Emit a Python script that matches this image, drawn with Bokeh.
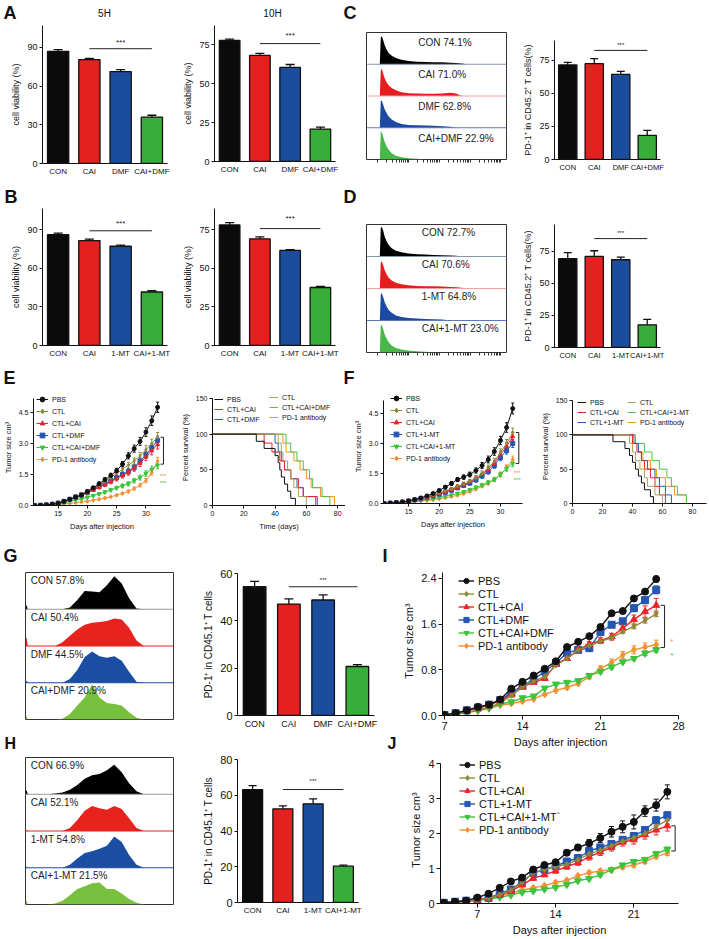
import numpy as np
from bokeh.plotting import figure
from bokeh.models import (FactorRange, Range1d, Whisker, TeeHead, ColumnDataSource,
                          Legend, LegendItem, FixedTicker, PrintfTickFormatter, Span)
from bokeh.layouts import row, column
from bokeh.embed import file_html
from bokeh.resources import INLINE
from bokeh.core.properties import value

FONT = "Liberation Sans"

# ---------------- data ----------------
cats_dmf = ["CON", "CAI", "DMF", "CAI+DMF"]
cats_mt = ["CON", "CAI", "1-MT", "CAI+1-MT"]

a5_vals = [87.0, 80.6, 71.3, 35.9];  a5_errs = [1.3, 0.8, 1.5, 1.5]
a10_vals = [77.6, 68.0, 60.3, 20.8]; a10_errs = [0.8, 1.3, 1.9, 1.3]
b5_vals = [86.0, 81.4, 77.0, 41.5];  b5_errs = [1.2, 1.2, 0.9, 1.0]
b10_vals = [78.0, 69.0, 61.5, 37.5]; b10_errs = [1.5, 1.2, 0.5, 0.8]
c_vals = [71.5, 72.5, 64.4, 18.2];   c_errs = [2.0, 3.8, 2.3, 3.8]
d_vals = [69.3, 71.1, 68.5, 17.7];   d_errs = [4.7, 4.4, 2.1, 4.2]
g_vals = [54.4, 47.1, 48.8, 20.7];   g_errs = [2.3, 2.2, 2.2, 0.8]
h_vals = [63.2, 52.4, 55.2, 20.3];   h_errs = [2.2, 1.7, 2.8, 0.6]

# flow histograms (relative heights in each row)
cd_x = [9.5, 10.2, 11, 12, 13, 14.5, 16, 18, 21, 25, 30, 36, 42, 48, 54, 60, 64, 68, 72]
c_con = [0, 0.85, 0.88, 0.75, 0.6, 0.45, 0.35, 0.27, 0.2, 0.14, 0.1, 0.08, 0.07, 0.06, 0.06, 0.05, 0.04, 0.02, 0]
c_cai = [0, 0.8, 0.85, 0.7, 0.55, 0.42, 0.33, 0.25, 0.18, 0.12, 0.09, 0.08, 0.07, 0.07, 0.08, 0.1, 0.08, 0, 0]
c_dmf = [0, 0.85, 0.85, 0.72, 0.58, 0.45, 0.35, 0.26, 0.18, 0.12, 0.09, 0.08, 0.07, 0.06, 0.05, 0.03, 0, 0, 0]
c_cd = [0, 0.9, 0.85, 0.7, 0.55, 0.4, 0.3, 0.2, 0.12, 0.07, 0.04, 0.02, 0, 0, 0, 0, 0, 0, 0]
d_con = [0, 0.9, 0.92, 0.8, 0.62, 0.46, 0.35, 0.26, 0.18, 0.13, 0.09, 0.07, 0.06, 0.05, 0.04, 0.03, 0.02, 0, 0]
d_cai = [0, 0.8, 0.85, 0.72, 0.57, 0.43, 0.33, 0.25, 0.18, 0.13, 0.1, 0.08, 0.07, 0.07, 0.06, 0.05, 0.04, 0.02, 0]
d_mt = [0, 0.82, 0.85, 0.72, 0.57, 0.43, 0.32, 0.24, 0.16, 0.11, 0.08, 0.06, 0.05, 0.04, 0.03, 0, 0, 0, 0]
d_cm = [0, 0.85, 0.85, 0.72, 0.56, 0.42, 0.31, 0.22, 0.14, 0.09, 0.06, 0.04, 0.02, 0.01, 0, 0, 0, 0, 0]
c_texts = ["CON 74.1%", "CAI 71.0%", "DMF 62.8%", "CAI+DMF 22.9%"]
d_texts = ["CON 72.7%", "CAI 70.6%", "1-MT 64.8%", "CAI+1-MT 23.0%"]

gh_x = [0, 0.8, 1.6, 15, 20, 25, 30, 35, 40, 45, 50, 55, 60, 65, 70, 75, 80, 85]
g_con = [0.1, 0.1, 0, 0, 0, 0, 0.05, 0.25, 0.5, 0.48, 0.46, 0.65, 0.9, 0.7, 0.3, 0.02, 0, 0]
g_cai = [0.22, 0.22, 0, 0, 0, 0.1, 0.28, 0.45, 0.58, 0.63, 0.65, 0.68, 0.75, 0.72, 0.5, 0.15, 0, 0]
g_dmf = [0.05, 0.05, 0, 0, 0, 0, 0.1, 0.35, 0.7, 0.85, 0.72, 0.68, 0.72, 0.6, 0.3, 0.03, 0, 0]
g_cd = [0.08, 0.08, 0, 0, 0, 0.02, 0.15, 0.38, 0.6, 0.95, 0.6, 0.45, 0.42, 0.38, 0.2, 0.05, 0, 0]
h_con = [0.1, 0.1, 0, 0, 0.02, 0.05, 0.12, 0.25, 0.42, 0.52, 0.55, 0.65, 0.8, 0.6, 0.3, 0.08, 0, 0]
h_cai = [0.03, 0.03, 0, 0, 0, 0, 0.08, 0.3, 0.55, 0.68, 0.62, 0.58, 0.68, 0.6, 0.35, 0.08, 0, 0]
h_mt = [0.03, 0.03, 0, 0, 0, 0, 0.08, 0.25, 0.4, 0.45, 0.52, 0.6, 0.85, 0.7, 0.35, 0.08, 0, 0]
h_cm = [0.1, 0.1, 0, 0, 0.03, 0.1, 0.25, 0.42, 0.5, 0.58, 0.6, 0.42, 0.42, 0.3, 0.15, 0.05, 0, 0]
g_texts = ["CON 57.8%", "CAI 50.4%", "DMF 44.5%", "CAI+DMF 20.9%"]
h_texts = ["CON 66.9%", "CAI 52.1%", "1-MT 54.8%", "CAI+1-MT 21.5%"]

# tumour growth E (days 11-32)
e_days = list(range(11, 33))
e_pbs = [0.0, 0.01, 0.03, 0.06, 0.10, 0.20, 0.30, 0.40, 0.50, 0.67, 0.85, 1.05, 1.25, 1.45, 1.68, 2.00, 2.40, 2.75, 3.10, 3.55, 4.10, 4.75]
e_ctl = [0.0, 0.01, 0.03, 0.06, 0.10, 0.20, 0.30, 0.42, 0.55, 0.70, 0.85, 1.00, 1.15, 1.35, 1.55, 1.75, 1.95, 2.15, 2.40, 2.70, 3.00, 3.30]
e_cai = [0.0, 0.01, 0.03, 0.06, 0.12, 0.20, 0.30, 0.40, 0.50, 0.62, 0.75, 0.88, 1.00, 1.15, 1.30, 1.45, 1.60, 1.80, 2.05, 2.35, 2.65, 2.95]
e_dmf = [0.0, 0.01, 0.03, 0.06, 0.12, 0.20, 0.30, 0.42, 0.52, 0.64, 0.78, 0.92, 1.05, 1.20, 1.35, 1.50, 1.65, 1.85, 2.15, 2.45, 2.80, 3.15]
e_cd = [0.0, 0.01, 0.02, 0.05, 0.08, 0.14, 0.20, 0.26, 0.33, 0.40, 0.48, 0.56, 0.65, 0.75, 0.85, 0.95, 1.05, 1.20, 1.35, 1.55, 1.75, 1.95]
e_pd1 = [0.0, 0.0, 0.01, 0.02, 0.04, 0.07, 0.10, 0.13, 0.17, 0.20, 0.25, 0.30, 0.36, 0.42, 0.50, 0.58, 0.68, 0.82, 0.98, 1.20, 1.60, 2.15]
e_pbs_e = [0.0, 0.0, 0.01, 0.01, 0.02, 0.03, 0.04, 0.05, 0.06, 0.07, 0.08, 0.09, 0.10, 0.11, 0.12, 0.13, 0.15, 0.17, 0.19, 0.21, 0.23, 0.25]
e_ctl_e = [0.0, 0.0, 0.01, 0.01, 0.02, 0.03, 0.04, 0.05, 0.06, 0.07, 0.08, 0.09, 0.10, 0.11, 0.12, 0.13, 0.14, 0.15, 0.17, 0.19, 0.21, 0.23]
e_cai_e = [0.0, 0.0, 0.01, 0.01, 0.02, 0.03, 0.04, 0.05, 0.06, 0.06, 0.07, 0.08, 0.09, 0.10, 0.11, 0.12, 0.13, 0.14, 0.16, 0.18, 0.20, 0.22]
e_dmf_e = [0.0, 0.0, 0.01, 0.01, 0.02, 0.03, 0.04, 0.04, 0.05, 0.06, 0.07, 0.08, 0.09, 0.10, 0.11, 0.12, 0.13, 0.14, 0.15, 0.17, 0.19, 0.21]
e_cd_e = [0.0, 0.0, 0.01, 0.01, 0.01, 0.02, 0.03, 0.03, 0.04, 0.05, 0.05, 0.06, 0.07, 0.08, 0.08, 0.09, 0.10, 0.11, 0.12, 0.13, 0.15, 0.17]
e_pd1_e = [0.0, 0.0, 0.0, 0.01, 0.01, 0.01, 0.02, 0.02, 0.02, 0.03, 0.03, 0.03, 0.04, 0.04, 0.05, 0.05, 0.06, 0.07, 0.08, 0.10, 0.13, 0.17]

# tumour growth F (days 11-32)
f_days = list(range(11, 33))
f_pbs = [0.0, 0.02, 0.04, 0.08, 0.13, 0.20, 0.28, 0.38, 0.50, 0.65, 0.82, 1.00, 1.20, 1.32, 1.45, 1.65, 1.90, 2.20, 2.60, 3.15, 3.80, 4.75]
f_ctl = [0.0, 0.02, 0.04, 0.07, 0.12, 0.18, 0.25, 0.33, 0.42, 0.52, 0.62, 0.73, 0.85, 0.97, 1.10, 1.28, 1.50, 1.78, 2.10, 2.55, 3.00, 3.55]
f_cai = [0.0, 0.02, 0.04, 0.07, 0.12, 0.18, 0.25, 0.32, 0.40, 0.50, 0.60, 0.70, 0.82, 0.95, 1.08, 1.25, 1.45, 1.70, 2.00, 2.45, 2.85, 3.35]
f_mt = [0.0, 0.02, 0.04, 0.07, 0.12, 0.18, 0.24, 0.30, 0.38, 0.47, 0.56, 0.66, 0.78, 0.90, 1.02, 1.18, 1.38, 1.60, 1.90, 2.30, 2.65, 3.00]
f_cm = [0.0, 0.01, 0.03, 0.05, 0.08, 0.12, 0.16, 0.20, 0.24, 0.30, 0.36, 0.42, 0.50, 0.58, 0.68, 0.80, 0.92, 1.05, 1.20, 1.45, 1.75, 2.00]
f_pd1 = [0.0, 0.01, 0.02, 0.04, 0.06, 0.09, 0.12, 0.15, 0.19, 0.23, 0.28, 0.34, 0.41, 0.50, 0.60, 0.72, 0.86, 1.00, 1.20, 1.45, 1.80, 2.20]
f_pbs_e = [0.0, 0.0, 0.01, 0.01, 0.02, 0.03, 0.04, 0.05, 0.06, 0.07, 0.08, 0.09, 0.10, 0.11, 0.12, 0.13, 0.15, 0.17, 0.19, 0.21, 0.24, 0.27]
f_ctl_e = [0.0, 0.0, 0.01, 0.01, 0.02, 0.03, 0.04, 0.04, 0.05, 0.06, 0.07, 0.08, 0.09, 0.10, 0.11, 0.12, 0.13, 0.14, 0.16, 0.18, 0.20, 0.22]
f_cai_e = [0.0, 0.0, 0.01, 0.01, 0.02, 0.03, 0.03, 0.04, 0.05, 0.06, 0.07, 0.08, 0.09, 0.10, 0.10, 0.11, 0.12, 0.13, 0.15, 0.17, 0.19, 0.21]
f_mt_e = [0.0, 0.0, 0.01, 0.01, 0.02, 0.02, 0.03, 0.04, 0.05, 0.06, 0.07, 0.07, 0.08, 0.09, 0.10, 0.11, 0.12, 0.13, 0.14, 0.16, 0.18, 0.20]
f_cm_e = [0.0, 0.0, 0.01, 0.01, 0.01, 0.02, 0.02, 0.03, 0.03, 0.04, 0.05, 0.05, 0.06, 0.07, 0.07, 0.08, 0.09, 0.10, 0.11, 0.12, 0.14, 0.16]
f_pd1_e = [0.0, 0.0, 0.0, 0.01, 0.01, 0.01, 0.02, 0.02, 0.02, 0.03, 0.03, 0.03, 0.04, 0.04, 0.05, 0.05, 0.06, 0.07, 0.08, 0.10, 0.13, 0.17]

# survival E / F  (time in days, percent survival)
es_pbs = ([0, 28, 33, 40, 42, 43, 44, 46, 48, 50, 53], [100, 90, 80, 70, 60, 50, 40, 30, 20, 10, 0])
es_ctl = ([0, 42, 44, 45, 48, 50, 52, 55, 60], [100, 87.5, 75, 62.5, 50, 37.5, 25, 12.5, 0])
es_cai = ([0, 33, 38, 43, 46, 50, 55, 58, 67], [100, 87.5, 75, 62.5, 50, 37.5, 25, 12.5, 0])
es_dmf = ([0, 40, 42, 44, 46, 50, 54, 58, 66], [100, 87.5, 75, 62.5, 50, 37.5, 25, 12.5, 0])
es_cd = ([0, 47, 50, 54, 58, 62, 64, 70, 75], [100, 87.5, 75, 62.5, 50, 37.5, 25, 12.5, 0])
es_pd1 = ([0, 45, 47, 52, 56, 60, 63, 69, 78], [100, 87.5, 75, 62.5, 50, 37.5, 25, 12.5, 0])
fs_pbs = ([0, 27, 35, 38, 40, 42, 44, 46, 48, 52, 54], [100, 90, 80, 70, 60, 50, 40, 30, 20, 10, 0])
fs_ctl = ([0, 38, 40, 42, 45, 48, 50, 55, 60], [100, 87.5, 75, 62.5, 50, 37.5, 25, 12.5, 0])
fs_cai = ([0, 40, 43, 46, 48, 52, 55, 58, 62], [100, 87.5, 75, 62.5, 50, 37.5, 25, 12.5, 0])
fs_mt = ([0, 41, 44, 46, 50, 55, 58, 62, 66], [100, 87.5, 75, 62.5, 50, 37.5, 25, 12.5, 0])
fs_cm = ([0, 42, 48, 53, 58, 63, 66, 70, 76], [100, 87.5, 75, 62.5, 50, 37.5, 25, 12.5, 0])
fs_pd1 = ([0, 40, 44, 47, 52, 56, 62, 68, 76], [100, 87.5, 75, 62.5, 50, 37.5, 25, 12.5, 0])

# tumour growth I (days 7-26)
i_days = list(range(7, 27))
i_pbs = [0.01, 0.04, 0.09, 0.15, 0.19, 0.28, 0.47, 0.59, 0.70, 0.82, 0.95, 1.20, 1.29, 1.39, 1.55, 1.79, 1.83, 2.05, 2.17, 2.39]
i_ctl = [0.0, 0.03, 0.06, 0.10, 0.14, 0.22, 0.35, 0.50, 0.60, 0.68, 0.88, 1.00, 1.15, 1.22, 1.30, 1.36, 1.47, 1.56, 1.66, 1.78]
i_cai = [0.0, 0.04, 0.08, 0.13, 0.18, 0.26, 0.36, 0.50, 0.58, 0.65, 0.90, 1.00, 1.15, 1.25, 1.31, 1.38, 1.53, 1.68, 1.82, 1.93]
i_dmf = [0.01, 0.04, 0.09, 0.14, 0.19, 0.27, 0.40, 0.52, 0.63, 0.77, 0.92, 1.10, 1.15, 1.18, 1.46, 1.59, 1.65, 1.88, 2.02, 2.20]
i_cd = [0.0, 0.02, 0.05, 0.09, 0.13, 0.20, 0.24, 0.31, 0.34, 0.48, 0.55, 0.58, 0.61, 0.70, 0.77, 0.85, 0.94, 1.00, 1.09, 1.15]
i_pd1 = [0.0, 0.02, 0.05, 0.08, 0.12, 0.18, 0.21, 0.25, 0.29, 0.37, 0.44, 0.49, 0.56, 0.68, 0.82, 0.93, 1.06, 1.15, 1.20, 1.24]
i_pbs_e = [0.01, 0.01, 0.01, 0.01, 0.01, 0.02, 0.02, 0.02, 0.02, 0.02, 0.02, 0.03, 0.02, 0.02, 0.03, 0.03, 0.03, 0.03, 0.04, 0.05]
i_ctl_e = [0.01, 0.01, 0.01, 0.01, 0.01, 0.01, 0.02, 0.02, 0.02, 0.02, 0.02, 0.03, 0.03, 0.03, 0.03, 0.03, 0.03, 0.04, 0.04, 0.05]
i_cai_e = [0.01, 0.01, 0.01, 0.01, 0.01, 0.02, 0.02, 0.02, 0.02, 0.03, 0.03, 0.03, 0.04, 0.04, 0.05, 0.06, 0.07, 0.08, 0.10, 0.12]
i_dmf_e = [0.01, 0.01, 0.01, 0.01, 0.01, 0.02, 0.02, 0.02, 0.02, 0.03, 0.03, 0.03, 0.03, 0.04, 0.04, 0.05, 0.05, 0.06, 0.06, 0.07]
i_cd_e = [0.01, 0.01, 0.01, 0.01, 0.01, 0.01, 0.02, 0.02, 0.02, 0.02, 0.02, 0.02, 0.02, 0.03, 0.03, 0.03, 0.03, 0.03, 0.04, 0.04]
i_pd1_e = [0.01, 0.01, 0.01, 0.01, 0.01, 0.01, 0.02, 0.02, 0.02, 0.02, 0.02, 0.03, 0.03, 0.04, 0.05, 0.06, 0.06, 0.07, 0.07, 0.08]

# tumour growth J (days 4-24)
j_days = list(range(4, 25))
j_pbs = [0.02, 0.05, 0.08, 0.17, 0.28, 0.45, 0.63, 0.74, 0.97, 1.10, 1.18, 1.45, 1.60, 1.72, 1.87, 2.05, 2.19, 2.33, 2.64, 2.81, 3.19]
j_ctl = [0.01, 0.04, 0.07, 0.10, 0.15, 0.25, 0.38, 0.60, 0.88, 0.97, 1.05, 1.12, 1.25, 1.42, 1.52, 1.65, 1.78, 1.88, 2.00, 2.20, 2.38]
j_cai = [0.01, 0.04, 0.07, 0.10, 0.15, 0.25, 0.35, 0.53, 0.72, 0.82, 0.93, 1.05, 1.17, 1.33, 1.47, 1.60, 1.75, 1.82, 1.97, 2.10, 2.22]
j_mt = [0.02, 0.05, 0.08, 0.12, 0.16, 0.28, 0.40, 0.62, 0.87, 0.97, 1.07, 1.20, 1.30, 1.50, 1.60, 1.70, 1.82, 1.93, 2.10, 2.38, 2.52]
j_cm = [0.01, 0.03, 0.06, 0.09, 0.13, 0.18, 0.24, 0.32, 0.36, 0.41, 0.46, 0.54, 0.65, 0.71, 0.82, 0.96, 1.10, 1.20, 1.26, 1.42, 1.55]
j_pd1 = [0.01, 0.04, 0.06, 0.10, 0.15, 0.22, 0.30, 0.38, 0.45, 0.51, 0.60, 0.66, 0.79, 0.88, 0.93, 0.96, 1.04, 1.10, 1.20, 1.34, 1.44]
j_pbs_e = [0.01, 0.01, 0.02, 0.03, 0.03, 0.04, 0.04, 0.05, 0.05, 0.06, 0.07, 0.08, 0.09, 0.11, 0.13, 0.15, 0.17, 0.20, 0.15, 0.17, 0.20]
j_ctl_e = [0.01, 0.01, 0.01, 0.02, 0.02, 0.03, 0.03, 0.04, 0.04, 0.05, 0.05, 0.06, 0.06, 0.07, 0.07, 0.08, 0.08, 0.09, 0.10, 0.10, 0.11]
j_cai_e = [0.01, 0.01, 0.01, 0.02, 0.02, 0.03, 0.03, 0.04, 0.05, 0.05, 0.06, 0.07, 0.08, 0.09, 0.10, 0.10, 0.11, 0.12, 0.13, 0.14, 0.15]
j_mt_e = [0.01, 0.01, 0.01, 0.02, 0.02, 0.03, 0.03, 0.04, 0.04, 0.05, 0.05, 0.06, 0.06, 0.07, 0.07, 0.07, 0.08, 0.08, 0.09, 0.10, 0.10]
j_cm_e = [0.01, 0.01, 0.01, 0.01, 0.02, 0.02, 0.02, 0.03, 0.03, 0.03, 0.03, 0.04, 0.04, 0.04, 0.04, 0.05, 0.05, 0.05, 0.05, 0.06, 0.06]
j_pd1_e = [0.01, 0.01, 0.01, 0.02, 0.02, 0.02, 0.03, 0.03, 0.03, 0.03, 0.04, 0.04, 0.04, 0.05, 0.05, 0.05, 0.05, 0.06, 0.06, 0.06, 0.07]

names_dmf = ["PBS", "CTL", "CTL+CAI", "CTL+DMF", "CTL+CAI+DMF", "PD-1 antibody"]
names_mt = ["PBS", "CTL", "CTL+CAI", "CTL+1-MT", "CTL+CAI+1-MT", "PD-1 antibody"]
names_mt_j = ["PBS", "CTL", "CTL+CAI", "CTL+1-MT", "CTL+CAI+1-MT`", "PD-1 antibody"]

# ---------------- styling ----------------
BAR_COLORS = ["#0b0b0b", "#e4211f", "#1c4d9d", "#39ad3a"]
LINE_COLORS = ["#111111", "#8c8a3a", "#e8262a", "#2557b2", "#3cc43c", "#f39232"]
SURV_COLORS = ["#111111", "#a9a45c", "#e8262a", "#2a5cc0", "#4cc14c", "#f7941d"]
MARKERS = ["circle", "diamond", "triangle", "square", "inverted_triangle", "diamond"]
HIST_CD = ["#000000", "#e41d1f", "#1c4aa3", "#48b848"]
HIST_GH = ["#000000", "#e8231d", "#1b4ea3", "#78c13f"]
SEP_CD = ["#8896aa", "#f2a0a0", "#5a78bb", "#444444"]
SEP_GH = ["#999999", "#e8231d", "#1b4ea3", "#444444"]


def no_align(p):
    if "frame_align" in p.properties():
        p.frame_align = False


def mk(box, frame, xr, yr):
    x0, y0, x1, y1 = box
    fx0, fy0, fx1, fy1 = frame
    p = figure(width=x1 - x0, height=y1 - y0, x_range=xr, y_range=yr, title=None,
               output_backend="svg", toolbar_location=None,
               min_border_left=fx0 - x0, min_border_right=x1 - fx1,
               min_border_top=fy0 - y0, min_border_bottom=y1 - fy1)
    p.outline_line_color = None
    p.grid.visible = False
    no_align(p)
    return p


def strip(x0, x1, y0, y1, texts):
    """A text-only band; its data coordinates equal page coordinates."""
    p = figure(width=x1 - x0, height=y1 - y0, x_range=Range1d(x0, x1), y_range=Range1d(y1, y0),
               title=None, output_backend="svg", toolbar_location=None, min_border=0)
    p.axis.visible = False
    p.grid.visible = False
    p.outline_line_color = None
    no_align(p)
    for t, x, y, size, bold, align in texts:
        p.text(x=[x], y=[y], text=[t], text_font=value(FONT), text_font_size=f"{size}px",
               text_font_style="bold" if bold else "normal", text_align=align,
               text_baseline="middle", text_color="#111111")
    return p


def style(p, tick_px, lab_px, tick_len=3):
    for ax in p.axis:
        ax.major_label_text_font = FONT
        ax.major_label_text_font_size = f"{tick_px}px"
        ax.major_label_text_color = "#111111"
        ax.axis_label_text_font = FONT
        ax.axis_label_text_font_size = f"{lab_px}px"
        ax.axis_label_text_font_style = "normal"
        ax.axis_label_text_color = "#111111"
        ax.major_tick_out = tick_len
        ax.major_tick_in = 0
        ax.minor_tick_line_color = None
        ax.axis_line_color = "#111111"
        ax.major_tick_line_color = "#111111"
        ax.major_label_standoff = 2
        ax.axis_label_standoff = 3


def bar_chart(box, frame, cats, vals, errs, ymax, yticks, ylabel, sig, tick_px, lab_px, cat_px,
              bw=0.68, cap=9, star_px=7):
    p = mk(box, frame, FactorRange(factors=cats), Range1d(0, ymax))
    src = ColumnDataSource(dict(x=cats, top=vals, up=[v + e for v, e in zip(vals, errs)], c=BAR_COLORS))
    p.vbar(x="x", top="top", width=bw, fill_color="c", line_color="#111111", line_width=1.3, source=src)
    p.add_layout(Whisker(base="x", lower="top", upper="up", source=src, line_color="#111111",
                         line_width=1.3, upper_head=TeeHead(size=cap, line_color="#111111", line_width=1.3),
                         lower_head=None))
    p.line(x=[cats[1], cats[3]], y=[sig[0], sig[0]], line_color="#222222", line_width=1)
    p.text(x=[cats[2]], y=[sig[1]], text=["***"], text_font=value(FONT), text_font_size=f"{star_px}px",
           text_align="center", text_baseline="middle", text_color="#222222")
    p.yaxis.ticker = FixedTicker(ticks=yticks)
    p.yaxis.axis_label = ylabel
    style(p, tick_px, lab_px)
    p.xaxis.major_tick_line_color = None
    p.xaxis.major_tick_out = 0
    p.xaxis.major_label_standoff = 3
    p.xaxis.major_label_text_font_size = f"{cat_px}px"
    return p


def hist_panel(box, frame, xs, rows, colors, texts, tx, ty, text_px, sep_colors, ticks=False):
    p = mk(box, frame, Range1d(0, 100), Range1d(0, 4))
    p.outline_line_color = "#333333"
    p.outline_line_width = 1
    for i, (hs, col) in enumerate(zip(rows, colors)):
        base = 3 - i
        p.varea(x=xs, y1=[base] * len(xs), y2=[base + h for h in hs], fill_color=col)
        if i < 3:
            p.add_layout(Span(location=base, dimension="width", line_color=sep_colors[i], line_width=1))
        p.text(x=[tx], y=[base + ty], text=[texts[i]], text_font=value(FONT), text_font_size=f"{text_px}px",
               text_baseline="middle", text_color="#222222")
    p.yaxis.visible = False
    if ticks:
        decades = [8, 30, 52, 74, 96]
        minors = [d + 22 * np.log10(k) for d in decades for k in range(1, 10) if d + 22 * np.log10(k) < 100]
        p.xaxis.ticker = FixedTicker(ticks=[], minor_ticks=minors)
        p.xaxis.axis_line_color = None
        p.xaxis.minor_tick_line_color = "#333333"
        p.xaxis.minor_tick_out = 3
        p.xaxis.minor_tick_in = 0
        p.xaxis.major_tick_line_color = None
    else:
        p.xaxis.visible = False
    return p


def tumor_chart(box, frame, xr, yr, ybounds, xticks, yticks, yfmt, days, series, errs, names, msize, lw,
                cap, tick_px, lab_px, leg_px, leg_loc, leg_gw, leg_h, xlabel, ylabel, tick_len=3):
    p = mk(box, frame, Range1d(*xr), Range1d(*yr))
    rends = []
    for k in range(len(series) - 1, -1, -1):
        col = LINE_COLORS[k]
        vals = series[k]
        src = ColumnDataSource(dict(x=days, lo=[v - e for v, e in zip(vals, errs[k])],
                                    hi=[v + e for v, e in zip(vals, errs[k])]))
        p.add_layout(Whisker(base="x", lower="lo", upper="hi", source=src, line_color=col, line_width=1,
                             upper_head=TeeHead(size=cap, line_color=col, line_width=1),
                             lower_head=TeeHead(size=cap, line_color=col, line_width=1)))
        r1 = p.line(days, vals, line_color=col, line_width=lw)
        ms = msize * (0.8 if k == 1 else 1.0)
        r2 = p.scatter(days, vals, marker=MARKERS[k], size=ms, fill_color=col, line_color=col)
        rends.append((k, r1, r2))
    rends.sort(key=lambda t: t[0])
    items = [LegendItem(label=names[k], renderers=[r1, r2]) for k, r1, r2 in rends]
    leg = Legend(items=items, location=leg_loc, orientation="vertical", padding=0, margin=0, spacing=0,
                 border_line_color=None, background_fill_alpha=0, label_text_font=FONT,
                 label_text_font_size=f"{leg_px}px", glyph_width=leg_gw, glyph_height=leg_h,
                 label_height=leg_h, label_standoff=4, label_text_color="#111111")
    p.add_layout(leg)
    p.xaxis.ticker = FixedTicker(ticks=xticks)
    p.yaxis.ticker = FixedTicker(ticks=yticks)
    p.yaxis.bounds = ybounds
    if yfmt:
        p.yaxis.formatter = PrintfTickFormatter(format=yfmt)
    p.xaxis.axis_label = xlabel
    p.yaxis.axis_label = ylabel
    style(p, tick_px, lab_px, tick_len)
    return p


def bracket(p, xpos, top, bot, dx, col="#222222", lw=1):
    p.line(x=[xpos - dx, xpos, xpos, xpos - dx], y=[top, top, bot, bot], line_color=col, line_width=lw)


def surv_chart(box, frame, xr, ytop, curves, names, leg_locs, leg_px, xlabel, tick_px, lab_px):
    p = mk(box, frame, Range1d(*xr), Range1d(0, ytop))
    rs = {}
    for k in range(len(curves) - 1, -1, -1):
        t, s = curves[k]
        rs[k] = p.step(x=t, y=s, mode="after", line_color=SURV_COLORS[k], line_width=1)
    for idxs, loc in zip([[0, 2, 3], [1, 4, 5]], leg_locs):
        leg = Legend(items=[LegendItem(label=names[k], renderers=[rs[k]]) for k in idxs], location=loc,
                     orientation="vertical", padding=0, margin=0, spacing=0, border_line_color=None,
                     background_fill_alpha=0, label_text_font=FONT, label_text_font_size=f"{leg_px}px",
                     glyph_width=9, glyph_height=10, label_height=10, label_standoff=4,
                     label_text_color="#111111")
        p.add_layout(leg)
    p.xaxis.ticker = FixedTicker(ticks=[0, 20, 40, 60, 80])
    p.yaxis.ticker = FixedTicker(ticks=[0, 50, 100, 150])
    p.yaxis.bounds = (0, 150)
    if xlabel:
        p.xaxis.axis_label = xlabel
    p.yaxis.axis_label = "Percent survival (%)"
    style(p, tick_px, lab_px)
    return p


R = 708  # right edge of the layout (page px; the page has no margin)

# ---------------- band 1: A + C ----------------
s1 = strip(0, R, 0, 24, [("A", 3, 12.5, 18, True, "left"), ("5H", 104, 12.5, 10, False, "center"),
                         ("10H", 272, 12.5, 10, False, "center"), ("C", 343, 12.5, 18, True, "left")])
A1b, A1f = (0, 24, 180, 186), (42, 25, 167, 163)
A2b, A2f = (180, 24, 345, 186), (209, 25, 335, 161)
C1b, C1f = (345, 24, 520, 186), (366, 32, 506, 159)
C2b, C2f = (520, 24, R, 186), (550, 40, 660, 159)

pA1 = bar_chart(A1b, A1f, cats_dmf, a5_vals, a5_errs, 107, [0, 30, 60, 90], "cell viability (%)",
                (89, 94), 9, 9, 8, cap=9, star_px=8)
pA2 = bar_chart(A2b, A2f, cats_dmf, a10_vals, a10_errs, 87.2, [0, 25, 50, 75], "cell viability (%)",
                (75.6, 81), 9, 9, 8, cap=9, star_px=8)
pC1 = hist_panel(C1b, C1f, cd_x, [c_con, c_cai, c_dmf, c_cd], HIST_CD, c_texts, 37, 0.67, 10, SEP_CD, ticks=True)
pC2 = bar_chart(C2b, C2f, cats_dmf, c_vals, c_errs, 90, [0, 25, 50, 75], "PD-1\u207a in CD45.2\u207a T cells(%)",
                (82.5, 86.5), 9, 9, 7.5, bw=0.69, cap=8, star_px=6)

# ---------------- band 2: B + D ----------------
s2 = strip(0, R, 186, 207, [("B", 4, 196.5, 18, True, "left"), ("D", 343, 196.5, 18, True, "left")])
B1b, B1f = (0, 207, 180, 365), (42, 208, 167, 345)
B2b, B2f = (180, 207, 345, 365), (209, 208, 335, 345)
D1b, D1f = (345, 207, 520, 365), (366, 224, 506, 352)
D2b, D2f = (520, 207, R, 365), (550, 224, 660, 347)

pB1 = bar_chart(B1b, B1f, cats_mt, b5_vals, b5_errs, 106.3, [0, 30, 60, 90], "cell viability (%)",
                (89, 95), 9, 9, 8, cap=9, star_px=8)
pB2 = bar_chart(B2b, B2f, cats_mt, b10_vals, b10_errs, 88.6, [0, 25, 50, 75], "cell viability (%)",
                (75.6, 82), 9, 9, 8, cap=9, star_px=8)
pD1 = hist_panel(D1b, D1f, cd_x, [d_con, d_cai, d_mt, d_cm], HIST_CD, d_texts, 39.5, 0.76, 10, SEP_CD, ticks=True)
pD2 = bar_chart(D2b, D2f, cats_mt, d_vals, d_errs, 96, [0, 25, 50, 75], "PD-1\u207a in CD45.2\u207a T cells(%)",
                (85, 89), 9, 9, 7.5, bw=0.69, cap=8, star_px=6)

# ---------------- band 3: E + F ----------------
s3 = strip(0, R, 365, 388, [("E", 3, 377, 18, True, "left"), ("F", 343, 377, 18, True, "left")])
E1b, E1f = (0, 388, 177, 545), (27, 389, 170, 505)
E2b, E2f = (177, 388, 345, 545), (205, 389, 345, 505)
F1b, F1f = (345, 388, 537, 545), (383, 389, 522, 503)
F2b, F2f = (537, 388, R, 545), (565, 389, 706, 503)

pE1 = tumor_chart(E1b, E1f, (10.8, 34.2), (0, 5.61), (0, 5.18), [15, 20, 25, 30], [0, 1.5, 3.0, 4.5], "%.1f",
                  e_days, [e_pbs, e_ctl, e_cai, e_dmf, e_cd, e_pd1],
                  [e_pbs_e, e_ctl_e, e_cai_e, e_dmf_e, e_cd_e, e_pd1_e], names_dmf,
                  4, 1, 3, 7, 7.5, 7, (3, 40), 12, 12, "Days after injection", "Tumor size cm\u00b3")
bracket(pE1, e_days[-1] + 1.0, e_ctl[-1], e_cd[-1] + 0.05, 0.5)
pE1.text(x=[e_days[-1] + 0.9] * 2, y=[e_cd[-1] - 0.5, e_cd[-1] - 0.85], text=["***", "***"],
         text_color=[LINE_COLORS[5], LINE_COLORS[4]], text_font=value(FONT), text_font_size="6px",
         text_align="center", text_baseline="middle")

pE2 = surv_chart(E2b, E2f, (0, 85), 162.6, [es_pbs, es_ctl, es_cai, es_dmf, es_cd, es_pd1], names_dmf,
                 [(2, 81), (57, 83)], 7, "Time (days)", 7, 7.5)

pF1 = tumor_chart(F1b, F1f, (10.9, 33.6), (0, 5.7), (0, 5.15), [15, 20, 25, 30], [0, 1.5, 3.0, 4.5], "%.1f",
                  f_days, [f_pbs, f_ctl, f_cai, f_mt, f_cm, f_pd1],
                  [f_pbs_e, f_ctl_e, f_cai_e, f_mt_e, f_cm_e, f_pd1_e], names_mt,
                  4, 1, 3, 7, 7.5, 7, (7, 39), 12, 12, "Days after injection", "Tumor size cm\u00b3")
bracket(pF1, f_days[-1] + 1.0, f_ctl[-1], f_cm[-1], 0.5)
pF1.text(x=[f_days[-1] + 0.7] * 2, y=[f_cm[-1] - 0.45, f_cm[-1] - 0.8], text=["***", "***"],
         text_color=[LINE_COLORS[5], LINE_COLORS[4]], text_font=value(FONT), text_font_size="6px",
         text_align="center", text_baseline="middle")

pF2 = surv_chart(F2b, F2f, (0, 89.4), 166, [fs_pbs, fs_ctl, fs_cai, fs_mt, fs_cm, fs_pd1], names_mt,
                 [(5, 76), (55, 76)], 7, "", 7, 7.5)

# ---------------- bands 4-5: G/H (left) and I/J (right) ----------------
s4 = strip(0, 400, 545, 566, [("G", 3, 555.5, 18, True, "left"), ("I", 382, 555.5, 18, True, "left")])
G1b, G1f = (0, 566, 200, 733), (25, 572, 173, 719)
G2b, G2f = (200, 566, 400, 733), (234, 573, 374, 715)
s5 = strip(0, 400, 733, 752, [("H", 4, 742.5, 16, True, "left"), ("J", 387, 742.5, 16, True, "left")])
H1b, H1f = (0, 752, 200, 938), (25, 757, 173, 904)
H2b, H2f = (200, 752, 400, 938), (233, 759, 358, 902)
Ib, If = (400, 545, R, 752), (438, 566, 678, 715)
Jb, Jf = (400, 752, R, 938), (440, 756, 678, 906)

pG1 = hist_panel(G1b, G1f, gh_x, [g_con, g_cai, g_dmf, g_cd], HIST_GH, g_texts, 3.5, 0.78, 10, SEP_GH)
pG2 = bar_chart(G2b, G2f, cats_dmf, g_vals, g_errs, 60, [0, 20, 40, 60], "PD-1\u207a in CD45.1\u207a T cells",
                (54.4, 57.2), 11, 10, 9, bw=0.66, cap=9, star_px=6)
pH1 = hist_panel(H1b, H1f, gh_x, [h_con, h_cai, h_mt, h_cm], HIST_GH, h_texts, 3.5, 0.78, 10, SEP_GH)
pH2 = bar_chart(H2b, H2f, cats_mt, h_vals, h_errs, 80, [0, 20, 40, 60, 80], "PD-1\u207a in CD45.1\u207a T cells",
                (63.2, 68), 11, 10, 8, bw=0.66, cap=8, star_px=6)

pI = tumor_chart(Ib, If, (6.82, 28), (0, 2.61), (0, 2.5), [7, 14, 21, 28], [0, 0.8, 1.6, 2.4], "%.1f", i_days,
                 [i_pbs, i_ctl, i_cai, i_dmf, i_cd, i_pd1],
                 [i_pbs_e, i_ctl_e, i_cai_e, i_dmf_e, i_cd_e, i_pd1_e], names_dmf,
                 7, 1.4, 5, 11, 11, 11, (16, 63), 16, 13, "Days after injection", "Tumor size cm\u00b3", 4)
bracket(pI, i_days[-1] + 0.75, i_cai[-1], i_pd1[-1] - 0.05, 0.35)
pI.text(x=[i_days[-1] + 1.4] * 2, y=[i_pd1[-1] + 0.05, i_cd[-1] - 0.1], text=["*", "*"],
        text_color=[LINE_COLORS[5], LINE_COLORS[4]], text_font=value(FONT), text_font_size="8px",
        text_align="center", text_baseline="middle")

pJ = tumor_chart(Jb, Jf, (3.7, 25), (0, 4.2), (0, 4), [7, 14, 21], [0, 1, 2, 3, 4], None, j_days,
                 [j_pbs, j_ctl, j_cai, j_mt, j_cm, j_pd1],
                 [j_pbs_e, j_ctl_e, j_cai_e, j_mt_e, j_cm_e, j_pd1_e], names_mt_j,
                 7, 1.4, 5, 11, 11, 11, (19, 67), 16, 13, "Days after injection", "Tumor size cm\u00b3", 4)
bracket(pJ, j_days[-1] + 0.7, j_cai[-1], j_cm[-1] - 0.05, 0.35)
pJ.text(x=[j_days[-1] + 1.2] * 2, y=[j_cm[-1] + 0.02, j_cm[-1] - 0.3], text=["*", "*"],
        text_color=[LINE_COLORS[5], LINE_COLORS[4]], text_font=value(FONT), text_font_size="8px",
        text_align="center", text_baseline="middle")

left_block = column(s4, row(pG1, pG2), s5, row(pH1, pH2))
right_block = column(pI, pJ)

layout = column(
    s1, row(pA1, pA2, pC1, pC2),
    s2, row(pB1, pB2, pD1, pD2),
    s3, row(pE1, pE2, pF1, pF2),
    row(left_block, right_block),
)

open("out.html", "w").write(file_html(layout, INLINE))
